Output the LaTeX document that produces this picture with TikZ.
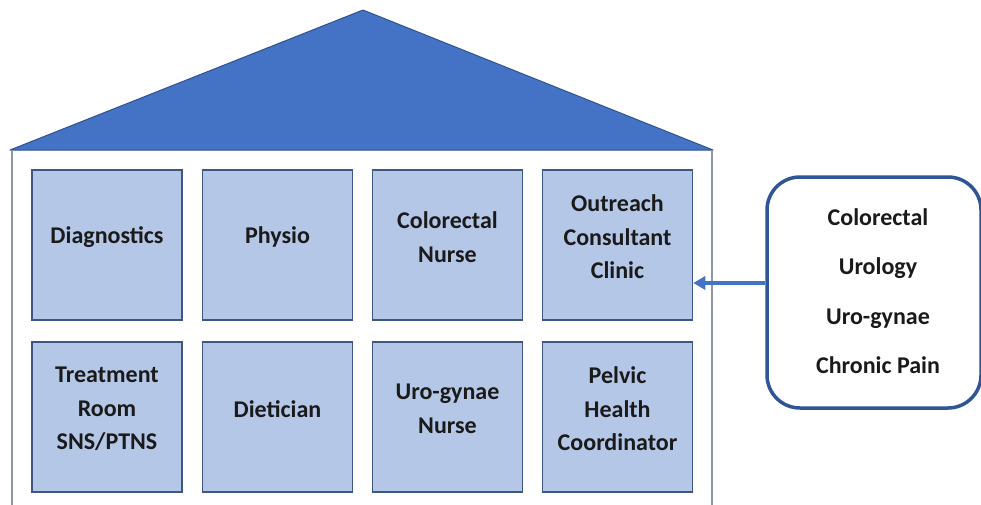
\documentclass[tikz,border=0pt]{standalone}
\usepackage{fontspec}
\setmainfont{Carlito}
\usetikzlibrary{arrows.meta}
\definecolor{roofc}{HTML}{4472C4}
\definecolor{roofb}{HTML}{2F528F}
\definecolor{cellc}{HTML}{B4C7E7}
\definecolor{cellb}{HTML}{3F5684}
\definecolor{bodyb}{HTML}{8E95A6}
\definecolor{grpb}{HTML}{2F5597}
\definecolor{txt}{HTML}{1A1A1A}
\tikzset{
  cell/.style={draw=cellb, fill=cellc, line width=1.5pt, minimum width=150pt, minimum height=150pt, inner sep=0pt},
  lbl/.style={align=center, text=txt, font=\bfseries\fontsize{24}{33.5}\selectfont, inner sep=0pt},
  grplbl/.style={align=center, text=txt, font=\bfseries\fontsize{24}{49.5}\selectfont, inner sep=0pt},
  grp/.style={draw=grpb, fill=white, line width=3.5pt, rounded corners=33pt, minimum width=214pt, minimum height=231pt, inner sep=0pt},
  arr/.style={draw=roofc, line width=3.5pt, -{Triangle[length=12pt,width=13pt]}}
}
\begin{document}
\begin{tikzpicture}[x=1pt,y=-1pt]
\useasboundingbox (0,0) rectangle (981,504);
\fill[white] (0,0) rectangle (981,504);
% roof
\draw[fill=roofc, draw=roofb, line width=1pt, line join=round] (10,150) -- (363,10) -- (713,150) -- cycle;
% body
\draw[draw=bodyb, line width=2pt] (12,150) -- (12,510) (712,150) -- (712,510);
% cells row 1
\node[cell] (c1) at (107,245) {};
\node[cell] (c2) at (277.5,245) {};
\node[cell] (c3) at (447.5,245) {};
\node[cell] (c4) at (617.5,245) {};
% cells row 2
\node[cell] (c5) at (107,417) {};
\node[cell] (c6) at (277.5,417) {};
\node[cell] (c7) at (447.5,417) {};
\node[cell] (c8) at (617.5,417) {};
% labels
\node[lbl] (t1) at ([yshift=8pt]c1.center) {Diagnostics};
\node[lbl] (t2) at ([yshift=8pt]c2.center) {Physio};
\node[lbl] (t3) at ([yshift=8pt]c3.center) {Colorectal\\Nurse};
\node[lbl] (t4) at ([yshift=8pt]c4.center) {Outreach\\Consultant\\Clinic};
\node[lbl] (t5) at ([yshift=8pt]c5.center) {Treatment\\Room\\SNS/PTNS};
\node[lbl] (t6) at ([yshift=8pt]c6.center) {Dietician};
\node[lbl] (t7) at ([yshift=8pt]c7.center) {Uro-gynae\\Nurse};
\node[lbl] (t8) at ([yshift=8pt]c8.center) {Pelvic\\Health\\Coordinator};
% group box
\node[grp] (g) at (874,292.5) {};
\node[grplbl] (gt) at (878,291) {Colorectal\\Urology\\Uro-gynae\\Chronic Pain};
% arrow
\draw[arr] ([yshift=9.5pt]g.west) -- ([yshift=-38pt]c4.east);
\end{tikzpicture}
\end{document}
